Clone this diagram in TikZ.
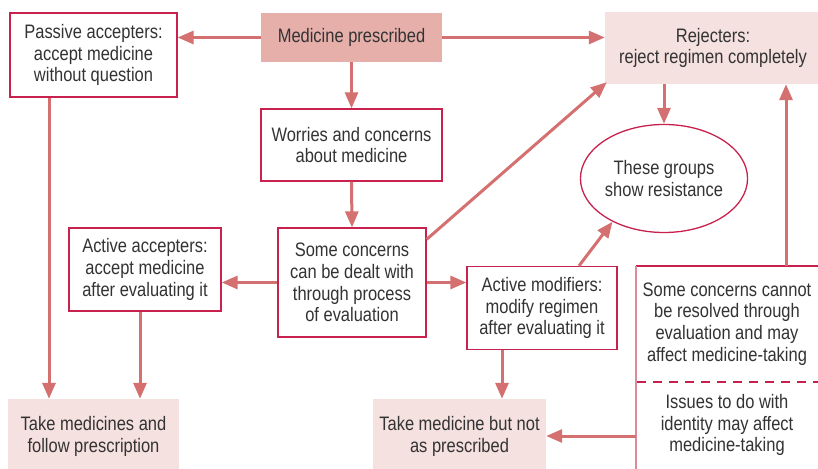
\documentclass[tikz,border=0pt]{standalone}
\usepackage{fontspec}
\setmainfont{Liberation Sans}[FakeStretch=0.845]
\usetikzlibrary{arrows.meta,shapes.geometric,calc}
\definecolor{edgered}{HTML}{C8214E}
\definecolor{edgepink}{HTML}{DC8A9C}
\definecolor{arrowred}{HTML}{D4706F}
\definecolor{darkfill}{HTML}{E6AFAA}
\definecolor{lightfill}{HTML}{F5E1DF}
\definecolor{txt}{HTML}{333333}
\tikzset{
  base/.style={align=center, text=txt, inner sep=0pt, font=\fontsize{19.5}{21.8}\selectfont},
  wbox/.style={base, draw=edgered, line width=1.3pt, fill=white},
  dbox/.style={base, fill=darkfill},
  lbox/.style={base, fill=lightfill},
  arr/.style={draw=arrowred, line width=3pt, -{Triangle[length=16pt,width=13pt]}},
}
\begin{document}
\begin{tikzpicture}[x=1pt,y=-1pt]
\useasboundingbox (0,0) rectangle (818,468);
\begin{scope}
\clip (0,0) rectangle (818,468);
% right open box
\fill[white] (636,266) rectangle (830,480);
\draw[edgered, line width=1.3pt] (636,266) -- (830,266);
\draw[edgepink, line width=1.5pt] (636,266) -- (636,480);
\draw[edgered, line width=2pt, dash pattern=on 9pt off 7pt] (637,382) -- (830,382);
\node[lbox, minimum width=171pt, minimum height=75pt] (take1) at (93.5,436.5) {Take medicines and\\follow prescription};
\node[lbox, minimum width=173pt, minimum height=75pt] (take2) at (459.5,436.5) {Take medicine but not\\as prescribed};
\node[lbox, minimum width=220pt, minimum height=72pt] (rej) at (715,48) {};
\end{scope}
\node[base] at (713,48) {Rejecters:\\reject regimen completely};
\node[base] (cannot) at (727,324) {Some concerns cannot\\be resolved through\\evaluation and may\\affect medicine-taking};
\node[base] (ident) at (727,425) {Issues to do with\\identity may affect\\medicine-taking};
\coordinate (rbtop) at (786,266);
\coordinate (rbleft) at (636,436);

\node[wbox, minimum width=167pt, minimum height=84pt] (pass) at (93.5,55) {Passive accepters:\\accept medicine\\without question};
\node[dbox, minimum width=181pt, minimum height=49pt] (med) at (351.5,37.5) {Medicine prescribed};
\node[wbox, minimum width=181pt, minimum height=72pt] (wor) at (351.5,145) {Worries and concerns\\about medicine};
\node[ellipse, base, draw=edgered, line width=1.3pt, minimum width=156pt, minimum height=108pt] (ell) at (664,178.5) {These groups\\show resistance};
\node[wbox, minimum width=152pt, minimum height=83pt] (aacc) at (145,269.5) {Active accepters:\\accept medicine\\after evaluating it};
\node[wbox, minimum width=148pt, minimum height=109pt] (some) at (352,282.5) {Some concerns\\can be dealt with\\through process\\of evaluation};
\node[wbox, minimum width=150pt, minimum height=83pt] (amod) at (542,308) {Active modifiers:\\modify regimen\\after evaluating it};

\coordinate (passout) at ($(pass.south)+(-44.5,0)$);
\coordinate (aaccout) at ($(aacc.south)+(-5,0)$);
\coordinate (amodout) at ($(amod.south)+(-40,0)$);
\coordinate (amodup) at ($(amod.north)+(37,0)$);
\coordinate (somecorner) at ($(some.north east)+(0,12)$);
\coordinate (rejcorner) at ($(rej.south west)+(2,-2)$);

% arrows
\draw[arr] (med.west) -- (pass.east |- med.west);
\draw[arr] (med.east) -- (rej.west |- med.east);
\draw[arr] (med.south) -- (wor.north);
\draw[arr] (wor.south) -- (some.north);
\draw[arr] (some.west) -- (aacc.east |- some.west);
\draw[arr] (some.east) -- (amod.west |- some.east);
\draw[arr] (somecorner) -- (rejcorner);
\draw[arr] (ell.north |- rej.south) -- (ell.north);
\draw[arr] (amodup) -- (ell.220);
\draw[arr] (rbtop) -- (rbtop |- rej.south);
\draw[arr] (rbleft) -- (take2.east |- rbleft);
\draw[arr] (passout) -- (passout |- take1.north);
\draw[arr] (aaccout) -- (aaccout |- take1.north);
\draw[arr] (amodout) -- (amodout |- take2.north);
\end{tikzpicture}
\end{document}
